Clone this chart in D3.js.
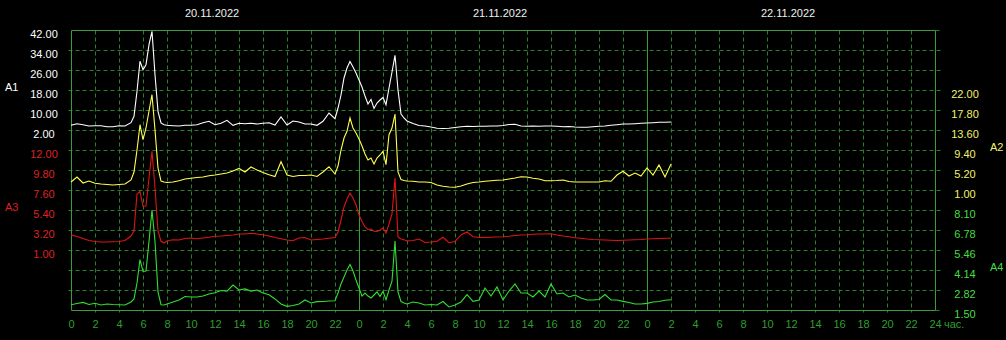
<!DOCTYPE html>
<html><head><meta charset="utf-8">
<script src="https://cdn.jsdelivr.net/npm/d3@7"></script>
<style>html,body{margin:0;padding:0;background:#000;overflow:hidden}svg{display:block}</style>
</head><body><svg id="c" width="1006" height="340"></svg>
<script>
// ---- data ----
const hours = [0,0.5,1,1.5,2,2.5,3,3.5,4,4.5,
  5,5.25,5.5,5.75,6,6.25,6.5,6.75,7,7.25,7.5,7.75,8,
  8.5,9,9.5,10,10.5,11,11.5,12,12.5,13,13.5,14,14.5,15,15.5,16,16.5,17,17.5,18,18.5,19,19.5,20,20.5,21,21.5,
  22,22.25,22.5,22.75,23,23.25,23.5,23.75,24,24.25,24.5,24.75,25,25.25,25.5,25.75,26,26.25,26.5,26.75,27,27.25,27.5,27.75,28,
  28.5,29,29.5,30,30.5,31,31.5,32,32.5,33,33.5,34,34.5,35,35.5,36,36.5,37,37.5,38,38.5,39,39.5,40,40.5,41,41.5,42,42.5,43,43.5,44,44.5,45,45.5,46,46.5,47,47.5,48,48.5,49,49.5,50];

const seriesA1 = [3.88,4.52,4.12,3.6,3.72,3.72,3.32,3.32,3.72,3.6,
  4.92,7.48,17.48,29.48,26.12,28.12,36.12,41.48,24.12,9.48,4.8,4.12,3.88,
  3.72,3.6,3.88,3.88,4.12,4.92,5.48,4.12,4.68,5.88,3.88,4.68,4.52,4.68,4.4,4.68,4.92,4.0,7.2,4.0,5.6,5.2,4.4,4.4,3.88,5.48,8.8,
  6.52,10.8,16,22.8,26.8,29.4,27.2,24.8,22,19.2,15.6,12.4,14.2,10.6,12.8,14,15,12.12,18.8,25.2,31.88,18,8.4,6.8,5.6,
  4.6,3.8,3.6,3.2,2.68,2.6,2.68,3.0,3.32,3.48,3.4,3.48,3.48,3.6,3.6,3.8,4.2,4.28,3.6,3.48,3.6,3.48,3.6,3.6,3.48,3.32,3.4,3.2,3.08,3.08,3.32,3.48,3.6,3.88,4.12,4.4,4.4,4.52,4.68,4.8,4.92,5.08,5.08,5.2];

const seriesA2 = [2.68,3.73,2.47,2.89,2.41,2.26,2.16,2.05,2.16,2.26,
  3.1,4.78,9.4,14.71,11.56,14.02,17.59,21.01,13.6,5.62,2.89,2.68,2.58,
  2.68,2.95,3.31,3.46,3.63,3.73,4.0,4.15,4.36,4.57,4.99,5.52,4.78,5.83,5.2,4.68,4.21,3.84,6.94,4.15,3.84,4.05,4.05,4.15,3.84,4.78,5.89,
  4.36,6.04,9.4,11.92,13.33,16.12,14.02,12.97,11.71,10.24,8.56,7.3,7.72,6.46,7.72,8.35,9.13,6.31,12.61,14.02,16.96,4.78,3.2,2.99,2.89,
  2.83,2.68,2.68,2.58,2.05,1.78,1.63,1.57,1.84,2.26,2.58,2.68,2.83,2.95,3.04,3.1,3.31,3.52,3.79,3.73,3.46,3.31,2.95,2.95,2.99,3.1,2.79,2.68,2.68,2.68,2.68,2.68,2.95,2.83,4.15,4.93,3.94,4.57,3.94,5.62,4.15,6.25,3.73,6.46];

const seriesA3 = [2.65,2.49,2.27,2.05,1.94,1.88,1.88,1.91,1.94,2.05,
  2.54,3.09,7.16,7.46,5.81,5.84,8.92,11.86,7.82,3.09,1.96,1.77,1.99,
  2.13,2.1,2.27,2.32,2.24,2.32,2.4,2.51,2.54,2.6,2.65,2.76,2.76,2.84,2.76,2.68,2.54,2.38,2.24,2.1,2.02,2.32,2.38,2.1,2.16,2.21,2.29,
  2.38,2.98,4.3,5.73,6.61,7.25,6.72,5.95,4.85,4.14,3.53,3.26,3.31,3.06,3.04,3.2,3.42,2.87,3.86,4.96,8.92,2.43,2.21,2.13,1.99,
  2.05,2.21,1.83,1.88,1.96,2.4,1.8,1.94,2.65,2.98,2.46,2.38,2.38,2.4,2.43,2.46,2.51,2.6,2.65,2.68,2.73,2.76,2.76,2.79,2.65,2.54,2.46,2.35,2.29,2.21,2.16,2.13,2.1,2.07,2.05,2.07,2.1,2.13,2.16,2.21,2.24,2.27,2.29,2.29];

const seriesA4 = [1.85,1.93,2.0,1.86,1.94,1.83,1.9,1.86,1.85,1.83,
  2.03,2.23,3.28,4.83,4.05,4.07,6.03,8.1,6.03,2.69,1.85,1.83,1.9,
  2.03,2.16,2.39,2.36,2.36,2.42,2.56,2.64,2.79,2.75,3.15,2.82,2.89,2.75,2.82,2.62,2.51,2.23,1.9,1.74,1.8,1.9,2.16,1.96,2.05,2.06,2.09,
  2.11,2.62,3.22,3.68,4.14,4.5,4.07,3.48,2.95,2.42,2.62,2.42,2.29,2.49,2.69,2.4,2.73,2.18,2.82,3.41,6.05,2.69,2.06,1.96,1.9,
  2.03,1.96,1.83,1.86,1.83,2.06,1.7,1.83,2.03,2.52,2.07,2.16,2.95,2.42,3.02,2.16,2.75,3.22,2.62,2.62,2.36,2.75,2.36,3.22,2.56,2.62,2.36,2.49,2.29,2.16,2.16,2.19,2.52,2.16,2.16,2.07,2.0,1.9,1.9,1.94,2.03,2.06,2.14,2.18];

const ticksA1 = [42,34,26,18,10,2];
const ticksA2 = [22,17.8,13.6,9.4,5.2,1];
const ticksA3 = [12,9.8,7.6,5.4,3.2,1];
const ticksA4 = [8.1,6.78,5.46,4.14,2.82,1.5];
const hourTicks = [0,2,4,6,8,10,12,14,16,18,20,22,24,26,28,30,32,34,36,38,40,42,44,46,48,50,52,54,56,58,60,62,64,66,68,70,72];
const dates = ["20.11.2022","21.11.2022","22.11.2022"];
const seriesNames = ["A1","A2","A3","A4"];
const hourUnit = "час.";

// ---- layout ----
const L = 71, R = 935, T = 30, B = 310;
const FONT = "'Liberation Sans', Arial, sans-serif";
const GRID = "#2a7f2a", FRAME = "#3c9c3c", AXTXT = "#2f9f2f";
const C1 = "#ffffff", C2 = "#ffff50", C3 = "#dd1515", C4 = "#33dd33";
const T1 = "#ffffff", T2 = "#f2f26a", T3 = "#dd2222", T4 = "#44dd44";

const svg = d3.select("#c");
svg.append("rect").attr("width",1006).attr("height",340).attr("fill","#000");

const x = d3.scaleLinear().domain([0,72]).range([L,R]);
const yA1 = d3.scaleLinear().domain([2,42]).range([130,30]);
const yA2 = d3.scaleLinear().domain([1,22]).range([190,90]);
const yA3 = d3.scaleLinear().domain([1,12]).range([250,150]);
const yA4 = d3.scaleLinear().domain([1.5,8.1]).range([310,210]);

const g = svg.append("g").attr("transform","translate(0.5,0.5)");

// horizontal grid (union of all axis tick rows)
const rows = Array.from(new Set([
  ...ticksA1.map(yA1), ...ticksA2.map(yA2), ...ticksA3.map(yA3), ...ticksA4.map(yA4)
].map(Math.round))).sort((a,b)=>a-b);
g.selectAll("line.h").data(rows.filter(r=>r!==T && r!==B)).join("line")
  .attr("x1",L-3).attr("x2",R+6).attr("y1",d=>d).attr("y2",d=>d)
  .attr("stroke",GRID).attr("stroke-dasharray","4,3");
g.selectAll("line.ht").data([T,B]).join("line")
  .attr("x1",R).attr("x2",R+6).attr("y1",d=>d).attr("y2",d=>d)
  .attr("stroke",GRID).attr("stroke-dasharray","4,3");

// vertical grid
g.selectAll("line.v").data(hourTicks.filter(h=>h%24!==0)).join("line")
  .attr("x1",d=>x(d)).attr("x2",d=>x(d)).attr("y1",T).attr("y2",B+2)
  .attr("stroke",GRID).attr("stroke-dasharray","4,3");
g.selectAll("line.vd").data(hourTicks.filter(h=>h%24===0)).join("line")
  .attr("x1",d=>x(d)).attr("x2",d=>x(d)).attr("y1",T).attr("y2",B)
  .attr("stroke",FRAME);

// frame top/bottom
g.append("line").attr("x1",L).attr("x2",R).attr("y1",T).attr("y2",T).attr("stroke",FRAME);
g.append("line").attr("x1",L).attr("x2",R).attr("y1",B).attr("y2",B).attr("stroke",FRAME);

// series
const series = [
  {v:seriesA4, y:yA4, c:C4},
  {v:seriesA3, y:yA3, c:C3},
  {v:seriesA2, y:yA2, c:C2},
  {v:seriesA1, y:yA1, c:C1}
];
series.forEach(s=>{
  const line = d3.line().x((d,i)=>x(hours[i])).y(d=>s.y(d));
  svg.append("path").attr("d",line(s.v)).attr("fill","none")
    .attr("stroke",s.c).attr("stroke-width",1.1).attr("stroke-linejoin","miter");
});

// left / right tick labels
function labels(ticks, scale, cx, color){
  svg.append("g").selectAll("text").data(ticks).join("text")
    .attr("x",cx).attr("y",d=>scale(d)+7.6)
    .attr("text-anchor","middle").attr("fill",color)
    .attr("font-family",FONT).attr("font-size",11)
    .text(d=>d.toFixed(2));
}
labels(ticksA1,yA1,44,T1);
labels(ticksA3,yA3,44,T3);
labels(ticksA2,yA2,965,T2);
labels(ticksA4,yA4,965,T4);

// series names
const nameLayout = [
  {n:seriesNames[0], x:5, y:91, c:T1},
  {n:seriesNames[2], x:5, y:211, c:T3},
  {n:seriesNames[1], x:990, y:151, c:T2},
  {n:seriesNames[3], x:990, y:271, c:T4}
];
svg.append("g").selectAll("text").data(nameLayout).join("text")
  .attr("x",d=>d.x).attr("y",d=>d.y).attr("fill",d=>d.c)
  .attr("font-family",FONT).attr("font-size",11).text(d=>d.n);

// bottom hour axis
const ax = d3.axisBottom(x).tickValues(hourTicks)
  .tickFormat(h => h===72 ? "24" : String(h%24)).tickSize(0).tickPadding(10);
const axg = svg.append("g").attr("transform",`translate(0,${B})`).call(ax);
axg.select(".domain").remove();
axg.selectAll("text").attr("fill",AXTXT).attr("font-family",FONT).attr("font-size",11);
svg.append("text").attr("x",R+9).attr("y",328).attr("fill",AXTXT)
  .attr("font-family",FONT).attr("font-size",11).text(hourUnit);

// date labels
svg.append("g").selectAll("text").data(dates).join("text")
  .attr("x",(d,i)=>x(12+24*i)-3).attr("y",17)
  .attr("text-anchor","middle").attr("fill","#f0f0f0")
  .attr("font-family",FONT).attr("font-size",11).text(d=>d);
</script></body></html>
